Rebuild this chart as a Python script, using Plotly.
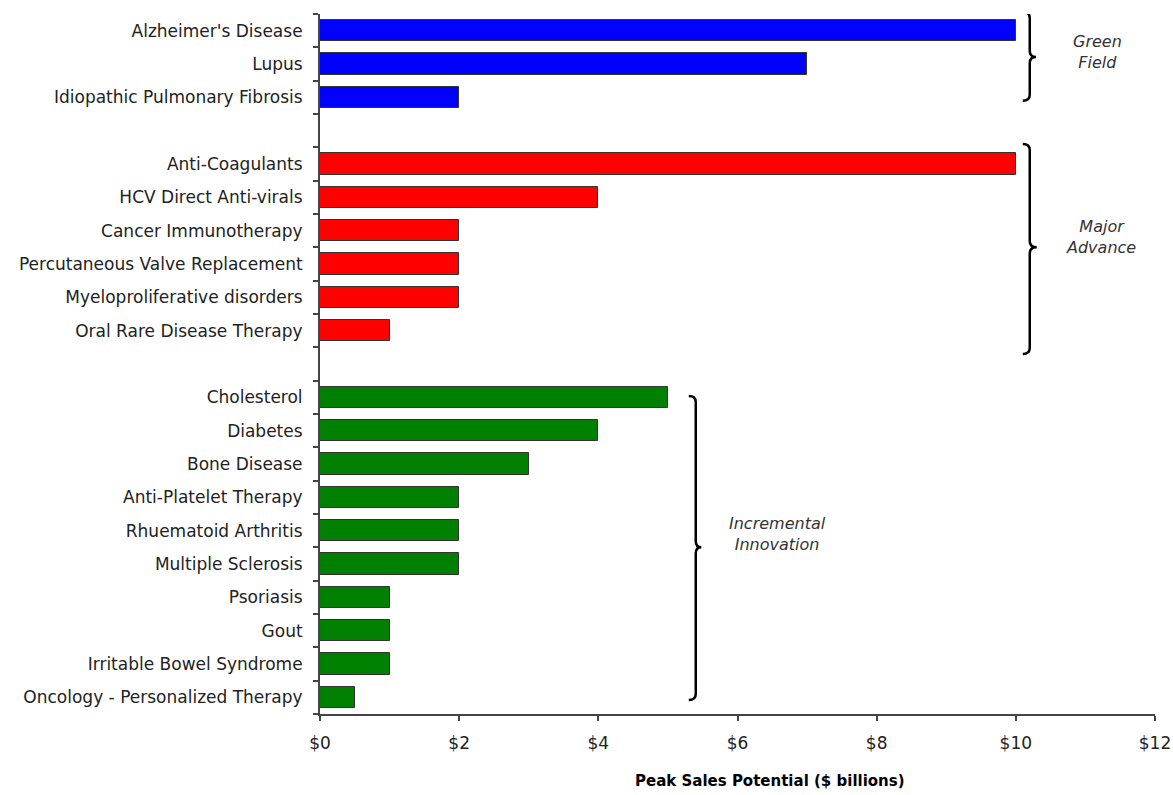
import plotly.graph_objects as go

# Peak sales potential ($ billions) by therapeutic area, grouped by innovation type
green_field = ["Alzheimer's Disease", "Lupus", "Idiopathic Pulmonary Fibrosis"]
green_field_sales = [10, 7, 2]

major_advance = ["Anti-Coagulants", "HCV Direct Anti-virals", "Cancer Immunotherapy",
                 "Percutaneous Valve Replacement", "Myeloproliferative disorders",
                 "Oral Rare Disease Therapy"]
major_advance_sales = [10, 4, 2, 2, 2, 1]

incremental = ["Cholesterol", "Diabetes", "Bone Disease", "Anti-Platelet Therapy",
               "Rhuematoid Arthritis", "Multiple Sclerosis", "Psoriasis", "Gout",
               "Irritable Bowel Syndrome", "Oncology - Personalized Therapy"]
incremental_sales = [5, 4, 3, 2, 2, 2, 1, 1, 1, 0.5]

x_ticks = [0, 2, 4, 6, 8, 10, 12]
x_tick_labels = ["$0", "$2", "$4", "$6", "$8", "$10", "$12"]

groups = [
    ("Green<br>Field", green_field, green_field_sales, "#0000ff"),
    ("Major<br>Advance", major_advance, major_advance_sales, "#ff0000"),
    ("Incremental<br>Innovation", incremental, incremental_sales, "#008000"),
]

FONT = "DejaVu Sans, Arial, sans-serif"
fig = go.Figure()

# Row positions: one empty row between groups
tickvals, ticktext = [], []
row = 0
for name, cats, vals, color in groups:
    pos = list(range(row, row + len(cats)))
    fig.add_trace(go.Bar(
        x=vals, y=pos, orientation="h", width=0.64,
        marker=dict(color=color, line=dict(color="#333333", width=1)),
        showlegend=False, hoverinfo="x+text", hovertext=cats,
    ))
    tickvals += pos
    ticktext += cats
    row += len(cats) + 1


def brace(x_line, x_tip, y_top, y_bot, y_mid, hook=0.1, bend=0.18):
    """Right-pointing curly brace path in data coordinates."""
    xs = x_line - hook
    return (f"M {xs},{y_top} Q {x_line},{y_top} {x_line},{y_top + bend} "
            f"L {x_line},{y_mid - bend} Q {x_line},{y_mid} {x_tip},{y_mid} "
            f"Q {x_line},{y_mid} {x_line},{y_mid + bend} "
            f"L {x_line},{y_bot - bend} Q {x_line},{y_bot} {xs},{y_bot}")


# brace placement: (x of spine, x of tip, top, bottom, middle, label x, label y)
brace_specs = [
    (10.2, 10.29, -0.56, 2.1, 0.79, 11.18, 0.64),
    (10.2, 10.3, 3.4, 9.7, 6.5, 11.23, 6.2),
    (5.4, 5.48, 10.96, 20.08, 15.5, 6.58, 15.1),
]
shapes = []
annotations = []
for (name, *_), (xl, xt, yt, yb, ym, lx, ly) in zip(groups, brace_specs):
    shapes.append(dict(type="path", xref="x", yref="y",
                       path=brace(xl, xt, yt, yb, ym),
                       line=dict(color="black", width=2.5)))
    annotations.append(dict(x=lx, y=ly, xref="x", yref="y", text=f"<i>{name}</i>",
                            showarrow=False, align="center",
                            font=dict(family=FONT, size=16, color="#333333")))

# axis title, placed slightly right of the plot centre
annotations.append(dict(xref="paper", yref="paper", x=0.539, y=-0.0957,
                        xanchor="center", yanchor="middle",
                        text="<b>Peak Sales Potential ($ billions)</b>",
                        showarrow=False,
                        font=dict(family=FONT, size=15, color="black")))

fig.update_layout(
    width=1173, height=795,
    margin=dict(l=320, r=18, t=14, b=81, autoexpand=False),
    paper_bgcolor="white", plot_bgcolor="white",
    shapes=shapes, annotations=annotations,
    font=dict(family=FONT, size=17, color="#222222"),
    bargap=0,
)
fig.update_xaxes(
    range=[0, 12], tickvals=x_ticks, ticktext=x_tick_labels,
    showgrid=False, zeroline=False, automargin=False,
    showline=True, linecolor="#444444", linewidth=2,
    ticks="outside", ticklen=5, tickcolor="#444444", tickwidth=2,
    ticklabelstandoff=8, ticklabeloverflow="allow",
    tickfont=dict(size=17, color="#222222"),
)
fig.update_yaxes(
    range=[20.5, -0.5], tickvals=tickvals, ticktext=ticktext,
    showgrid=False, zeroline=False, automargin=False,
    showline=True, linecolor="#444444", linewidth=2,
    ticks="", ticklabelstandoff=12,
    minor=dict(tick0=0.5, dtick=1, ticks="outside", ticklen=5,
               tickcolor="#444444", tickwidth=2, showgrid=False),
    tickfont=dict(size=17, color="#222222"),
)

fig.write_html("out.html")
